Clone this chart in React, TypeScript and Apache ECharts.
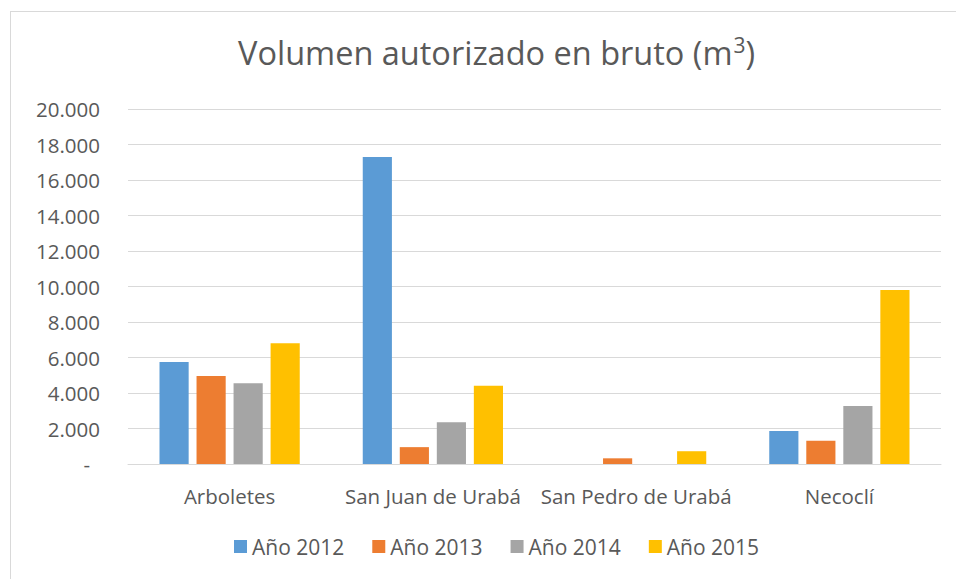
import React, { useEffect, useRef } from "react";
import * as echarts from "echarts";

const categories = ["Arboletes", "San Juan de Urabá", "San Pedro de Urabá", "Necoclí"];
const seriesNames = ["Año 2012", "Año 2013", "Año 2014", "Año 2015"];
const values2012 = [5750, 17300, 0, 1860];
const values2013 = [4960, 950, 320, 1310];
const values2014 = [4550, 2350, 0, 3270];
const values2015 = [6800, 4410, 720, 9800];
const colors = ["#5B9BD5", "#ED7D31", "#A5A5A5", "#FFC000"];

const FONT = "Open Sans";
const TXT = "#595959";

function fmt(v: number): string {
  if (v === 0) return "{z|-}";
  return String(v).replace(/\B(?=(\d{3})+(?!\d))/g, ".");
}

export default function App() {
  const ref = useRef<HTMLDivElement>(null);
  useEffect(() => {
    document.body.style.margin = "0";
    const chart = echarts.init(ref.current!, null, { renderer: "svg" });
    const data = [values2012, values2013, values2014, values2015];
    chart.setOption({
      animation: false,
      backgroundColor: "#FFFFFF",
      textStyle: { fontFamily: FONT },
      title: {
        text: "{a|Volumen autorizado en bruto (m}{b|3}{a|)}",
        left: 233,
        top: 26,
        textStyle: {
          fontWeight: "normal",
          rich: {
            a: { fontFamily: FONT, fontSize: 32.5, fontWeight: "normal", color: TXT, lineHeight: 42 },
            b: { fontFamily: FONT, fontSize: 21, fontWeight: "normal", color: TXT, lineHeight: 42, padding: [0, 0, 14, 1] },
          },
        },
      },
      graphic: [
        { type: "line", shape: { x1: 10, y1: 11.5, x2: 956, y2: 11.5 }, style: { stroke: "#D9D9D9", lineWidth: 1 } },
        { type: "line", shape: { x1: 10.5, y1: 11, x2: 10.5, y2: 579 }, style: { stroke: "#D9D9D9", lineWidth: 1 } },
      ],
      legend: {
        data: seriesNames,
        bottom: 17,
        left: 229,
        itemWidth: 13,
        itemHeight: 13,
        itemGap: 28,
        icon: "rect",
        textStyle: { fontFamily: FONT, fontSize: 21, color: TXT },
      },
      grid: { left: 128, right: 15, top: 109, bottom: 115, containLabel: false },
      xAxis: {
        type: "category",
        data: categories,
        axisLine: { lineStyle: { color: "#D9D9D9", width: 1 } },
        axisTick: { show: false },
        axisLabel: { fontFamily: FONT, fontSize: 20.5, color: TXT, margin: 21, interval: 0 },
      },
      yAxis: {
        type: "value",
        min: 0,
        max: 20000,
        interval: 2000,
        axisLine: { show: false },
        axisTick: { show: false },
        splitLine: { lineStyle: { color: "#D9D9D9", width: 1 } },
        axisLabel: {
          fontFamily: FONT,
          fontSize: 20.5,
          color: TXT,
          margin: 28,
          formatter: fmt,
          rich: { z: { fontFamily: FONT, fontSize: 20.5, color: TXT, padding: [0, 10, 0, 0] } },
        },
      },
      series: seriesNames.map((name, i) => ({
        name,
        type: "bar",
        data: data[i],
        barGap: "27%",
        barCategoryGap: "31%",
        itemStyle: { color: colors[i] },
      })),
    });
    return () => chart.dispose();
  }, []);
  return <div ref={ref} style={{ width: 956, height: 579, position: "absolute", left: 0, top: 0 }} />;
}
